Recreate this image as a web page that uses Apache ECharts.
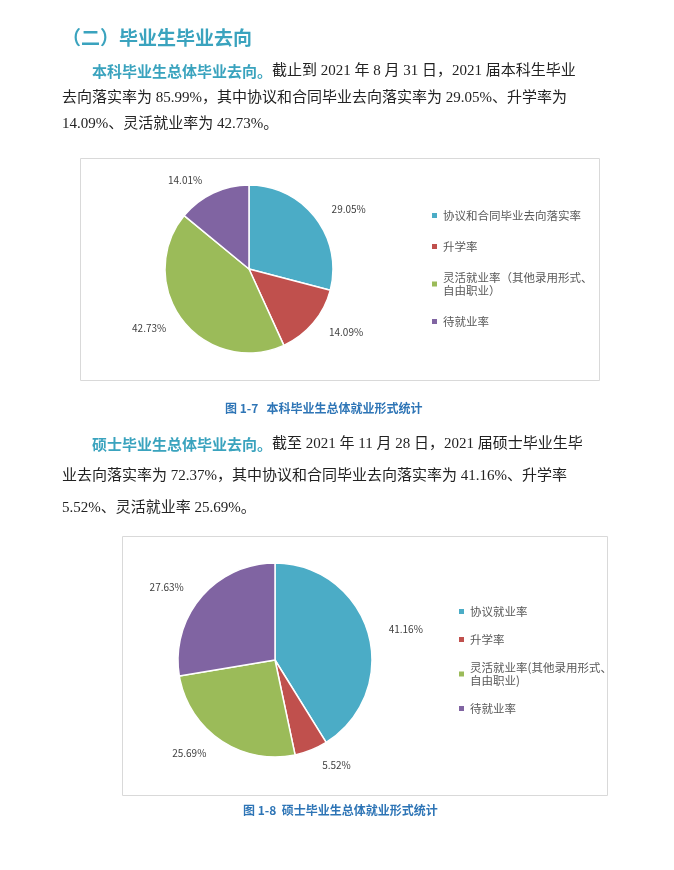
<!DOCTYPE html>
<html><head><meta charset="utf-8">
<script src="https://cdn.jsdelivr.net/npm/echarts@6/dist/echarts.min.js"></script>
<style>html,body{margin:0;padding:0;background:#fff}#c{width:674px;height:870px}</style>
</head><body><div id="c"></div>
<script>
const names1 = ['协议和合同毕业去向落实率','升学率','灵活就业率（其他录用形式、\n自由职业）','待就业率'];
const values1 = [29.05,14.09,42.73,14.01];
const names2 = ['协议就业率','升学率','灵活就业率(其他录用形式、\n自由职业)','待就业率'];
const values2 = [41.16,5.52,25.69,27.63];
const colors = ['#4BACC6','#C0504D','#9BBB59','#8064A2'];
const FONT = '"Noto Sans CJK SC", sans-serif';
const SERIF = '"Liberation Serif", "Noto Sans CJK SC", serif';
const teal = '#3AA3BE';
const chart = echarts.init(document.getElementById('c'));
function para(x,y,rich){return {type:'text',left:x,top:y,style:{rich:{b:{fontSize:15,fontWeight:'bold',fill:teal,fontFamily:FONT},n:{fontSize:15,fill:'#222',fontFamily:SERIF}},text:rich}};}
const mk = (names,vals)=>names.map((n,i)=>({name:n,value:vals[i],itemStyle:{color:colors[i]}}));
chart.setOption({
  color: colors,
  graphic: [
    {type:'text',left:62,top:28,style:{text:'（二）毕业生毕业去向',fontSize:19,fontWeight:'bold',fill:teal,fontFamily:FONT}},
    para(92,64,'{b|本科毕业生总体毕业去向。}{n|截止到 2021 年 8 月 31 日，2021 届本科生毕业}'),
    para(62,91,'{n|去向落实率为 85.99%，其中协议和合同毕业去向落实率为 29.05%、升学率为}'),
    para(62,117,'{n|14.09%、灵活就业率为 42.73%。}'),
    {type:'rect',shape:{x:80.5,y:158.5,width:519,height:222},style:{fill:'none',stroke:'#d9d9d9',lineWidth:1}},
    {type:'text',left:225,top:402,style:{text:'图 1-7   本科毕业生总体就业形式统计',fontSize:12,fontWeight:'bold',fill:'#2E75B6',fontFamily:FONT}},
    para(92,437,'{b|硕士毕业生总体毕业去向。}{n|截至 2021 年 11 月 28 日，2021 届硕士毕业生毕}'),
    para(62,469,'{n|业去向落实率为 72.37%，其中协议和合同毕业去向落实率为 41.16%、升学率}'),
    para(62,501,'{n|5.52%、灵活就业率 25.69%。}'),
    {type:'rect',shape:{x:122.5,y:536.5,width:485,height:259},style:{fill:'none',stroke:'#d9d9d9',lineWidth:1}},
    {type:'text',left:243,top:804,style:{text:'图 1-8  硕士毕业生总体就业形式统计',fontSize:12,fontWeight:'bold',fill:'#2E75B6',fontFamily:FONT}}
  ],
  legend: [
    {orient:'vertical',left:425,top:204,itemWidth:7,itemHeight:7,itemGap:18,icon:'rect',
     data:names1,textStyle:{fontSize:11.5,color:'#595959',fontFamily:FONT,lineHeight:13}},
    {orient:'vertical',left:452,top:600,itemWidth:7,itemHeight:7,itemGap:15,icon:'rect',
     data:names2,textStyle:{fontSize:11.5,color:'#595959',fontFamily:FONT,lineHeight:13}}
  ],
  series: [
    {type:'pie',center:[249,269],radius:[0,84],startAngle:90,clockwise:true,silent:true,
     itemStyle:{borderColor:'#fff',borderWidth:1.5},
     label:{show:true,position:'outside',formatter:p=>p.value.toFixed(2)+'%',fontSize:10,color:'#404040',fontFamily:FONT},
     labelLine:{show:false,length:14,length2:0},
     data:mk(names1,values1)},
    {type:'pie',center:[275,660],radius:[0,97],startAngle:90,clockwise:true,silent:true,
     itemStyle:{borderColor:'#fff',borderWidth:1.5},
     label:{show:true,position:'outside',formatter:p=>p.value.toFixed(2)+'%',fontSize:10,color:'#404040',fontFamily:FONT},
     labelLine:{show:false,length:16,length2:0},
     data:mk(names2,values2)}
  ]
});
</script></body></html>
